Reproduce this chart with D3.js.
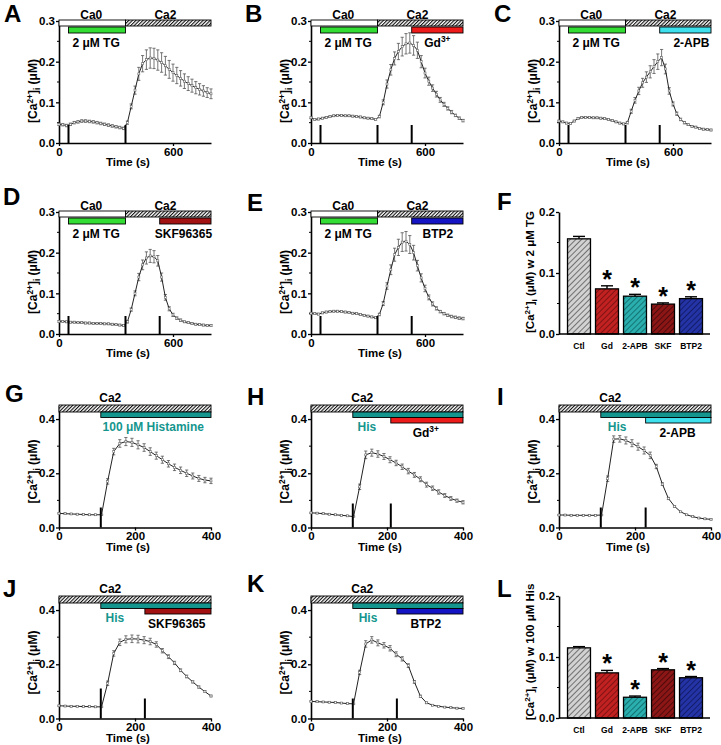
<!DOCTYPE html>
<html>
<head>
<meta charset="utf-8">
<script src="https://cdn.jsdelivr.net/npm/d3@7/dist/d3.min.js"></script>
<style>
  body { margin: 0; background: #fff; }
  svg { font-family: "Liberation Sans", Arial, sans-serif; font-weight: bold; }
</style>
</head>
<body>
<div id="fig"></div>
<script>
// ---- data: TG protocol traces (A-E), sampled every 20 s ----
const timesTG = [0, 20, 40, 60, 80, 100, 120, 140, 160, 180, 200, 220, 240, 260, 280, 300, 320, 340,
  360, 380, 400, 420, 440, 460, 480, 500, 520, 540, 560, 580, 600, 620, 640, 660, 680, 700, 720, 740, 760, 780, 800];

const valA = [0.046, 0.045, 0.043, 0.046, 0.050, 0.052, 0.054, 0.054, 0.053, 0.052, 0.050, 0.048, 0.046, 0.044, 0.042, 0.040, 0.038, 0.036,
  0.050, 0.090, 0.130, 0.170, 0.195, 0.205, 0.209, 0.208, 0.204, 0.198, 0.190, 0.181, 0.173, 0.166, 0.159, 0.152, 0.146, 0.141, 0.136, 0.132, 0.128, 0.124, 0.121];
const errA = [0.003, 0.003, 0.003, 0.003, 0.003, 0.003, 0.003, 0.003, 0.003, 0.003, 0.003, 0.003, 0.003, 0.003, 0.003, 0.003, 0.003, 0.003,
  0.004, 0.006, 0.010, 0.016, 0.020, 0.024, 0.025, 0.025, 0.025, 0.024, 0.023, 0.022, 0.021, 0.020, 0.019, 0.018, 0.017, 0.016, 0.015, 0.014, 0.013, 0.012, 0.012];

const valB = [0.062, 0.058, 0.059, 0.061, 0.063, 0.065, 0.067, 0.068, 0.068, 0.067, 0.067, 0.066, 0.065, 0.064, 0.062, 0.061, 0.060, 0.058,
  0.065, 0.100, 0.145, 0.180, 0.208, 0.225, 0.237, 0.244, 0.246, 0.240, 0.228, 0.200, 0.172, 0.152, 0.135, 0.120, 0.106, 0.095, 0.085, 0.076, 0.068, 0.061, 0.055];
const errB = [0.002, 0.002, 0.002, 0.002, 0.002, 0.002, 0.002, 0.002, 0.002, 0.002, 0.002, 0.002, 0.002, 0.002, 0.002, 0.002, 0.002, 0.002,
  0.003, 0.006, 0.010, 0.013, 0.016, 0.020, 0.023, 0.025, 0.025, 0.024, 0.020, 0.015, 0.012, 0.010, 0.008, 0.007, 0.006, 0.005, 0.004, 0.004, 0.003, 0.003, 0.003];

const valC = [0.054, 0.052, 0.049, 0.048, 0.054, 0.060, 0.063, 0.063, 0.063, 0.062, 0.062, 0.061, 0.060, 0.058, 0.055, 0.052, 0.049, 0.047,
  0.050, 0.078, 0.105, 0.128, 0.148, 0.162, 0.175, 0.188, 0.200, 0.210, 0.182, 0.128, 0.096, 0.072, 0.058, 0.050, 0.045, 0.041, 0.039, 0.036, 0.034, 0.033, 0.032];
const errC = [0.002, 0.002, 0.002, 0.002, 0.002, 0.002, 0.002, 0.002, 0.002, 0.002, 0.002, 0.002, 0.002, 0.002, 0.002, 0.002, 0.002, 0.002,
  0.003, 0.005, 0.007, 0.009, 0.011, 0.013, 0.015, 0.017, 0.019, 0.020, 0.012, 0.008, 0.005, 0.004, 0.003, 0.003, 0.002, 0.002, 0.002, 0.002, 0.002, 0.002, 0.002];

const valD = [0.031, 0.031, 0.030, 0.029, 0.029, 0.028, 0.028, 0.027, 0.027, 0.026, 0.026, 0.026, 0.025, 0.025, 0.024, 0.023, 0.022, 0.021,
  0.030, 0.060, 0.100, 0.140, 0.170, 0.187, 0.192, 0.190, 0.180, 0.140, 0.090, 0.062, 0.047, 0.039, 0.034, 0.030, 0.028, 0.026, 0.024, 0.023, 0.022, 0.021, 0.021];
const errD = [0.002, 0.002, 0.002, 0.002, 0.002, 0.002, 0.002, 0.002, 0.002, 0.002, 0.002, 0.002, 0.002, 0.002, 0.002, 0.002, 0.002, 0.002,
  0.003, 0.004, 0.006, 0.009, 0.012, 0.015, 0.016, 0.015, 0.013, 0.010, 0.007, 0.005, 0.004, 0.003, 0.003, 0.002, 0.002, 0.002, 0.002, 0.002, 0.002, 0.002, 0.002];

const valE = [0.051, 0.050, 0.049, 0.052, 0.054, 0.055, 0.056, 0.056, 0.055, 0.054, 0.053, 0.051, 0.050, 0.048, 0.046, 0.044, 0.042, 0.040,
  0.048, 0.075, 0.118, 0.158, 0.195, 0.213, 0.226, 0.228, 0.220, 0.200, 0.168, 0.138, 0.112, 0.090, 0.074, 0.063, 0.055, 0.050, 0.046, 0.043, 0.041, 0.039, 0.038];
const errE = [0.002, 0.002, 0.002, 0.002, 0.002, 0.002, 0.002, 0.002, 0.002, 0.002, 0.002, 0.002, 0.002, 0.002, 0.002, 0.002, 0.002, 0.002,
  0.003, 0.005, 0.008, 0.012, 0.016, 0.020, 0.023, 0.024, 0.022, 0.018, 0.013, 0.010, 0.008, 0.006, 0.005, 0.004, 0.003, 0.003, 0.003, 0.003, 0.003, 0.003, 0.003];

// ---- data: histamine traces (G-K), sampled every 16 s ----
const timesHis = [0, 16, 32, 48, 64, 80, 96, 112, 128, 144, 160, 176, 192, 208, 224, 240, 256, 272, 288, 304, 320, 336, 352, 368, 384, 400];

const valG = [0.052, 0.051, 0.050, 0.049, 0.048, 0.047, 0.047, 0.047, 0.170, 0.280, 0.310, 0.317, 0.314, 0.305, 0.295, 0.280, 0.265, 0.250, 0.235, 0.222, 0.211, 0.200, 0.190, 0.181, 0.175, 0.172];
const errG = [0.002, 0.002, 0.002, 0.002, 0.002, 0.002, 0.002, 0.002, 0.010, 0.012, 0.014, 0.015, 0.015, 0.015, 0.014, 0.014, 0.013, 0.013, 0.012, 0.012, 0.012, 0.012, 0.011, 0.011, 0.010, 0.010];

const valH = [0.054, 0.053, 0.051, 0.049, 0.047, 0.045, 0.043, 0.040, 0.150, 0.268, 0.276, 0.271, 0.262, 0.250, 0.238, 0.224, 0.208, 0.194, 0.178, 0.158, 0.145, 0.131, 0.118, 0.107, 0.099, 0.093];
const errH = [0.002, 0.002, 0.002, 0.002, 0.002, 0.002, 0.002, 0.002, 0.010, 0.014, 0.013, 0.012, 0.011, 0.011, 0.010, 0.010, 0.010, 0.009, 0.009, 0.009, 0.008, 0.008, 0.007, 0.007, 0.006, 0.006];

const valI = [0.046, 0.046, 0.045, 0.045, 0.045, 0.045, 0.045, 0.046, 0.180, 0.326, 0.327, 0.321, 0.311, 0.298, 0.284, 0.266, 0.225, 0.160, 0.107, 0.078, 0.058, 0.047, 0.040, 0.035, 0.032, 0.030];
const errI = [0.002, 0.002, 0.002, 0.002, 0.002, 0.002, 0.002, 0.002, 0.010, 0.012, 0.012, 0.013, 0.013, 0.013, 0.013, 0.012, 0.008, 0.005, 0.004, 0.003, 0.002, 0.002, 0.002, 0.002, 0.002, 0.002];

const valJ = [0.047, 0.046, 0.045, 0.045, 0.044, 0.044, 0.043, 0.043, 0.130, 0.240, 0.281, 0.292, 0.294, 0.293, 0.289, 0.284, 0.273, 0.250, 0.228, 0.205, 0.178, 0.155, 0.135, 0.116, 0.099, 0.083];
const errJ = [0.002, 0.002, 0.002, 0.002, 0.002, 0.002, 0.002, 0.002, 0.008, 0.010, 0.012, 0.013, 0.014, 0.014, 0.013, 0.012, 0.010, 0.008, 0.007, 0.006, 0.005, 0.005, 0.004, 0.004, 0.003, 0.003];

const valK = [0.063, 0.062, 0.061, 0.060, 0.059, 0.057, 0.055, 0.054, 0.170, 0.275, 0.290, 0.279, 0.270, 0.259, 0.237, 0.220, 0.195, 0.135, 0.082, 0.058, 0.049, 0.045, 0.042, 0.040, 0.038, 0.037];
const errK = [0.002, 0.002, 0.002, 0.002, 0.002, 0.002, 0.002, 0.002, 0.008, 0.012, 0.012, 0.011, 0.010, 0.010, 0.009, 0.008, 0.007, 0.005, 0.004, 0.003, 0.002, 0.002, 0.002, 0.002, 0.002, 0.002];

// ---- data: summary bars (F, L) ----
const barCats = ['Ctl', 'Gd', '2-APB', 'SKF', 'BTP2'];
const peakTG = [0.156, 0.074, 0.062, 0.049, 0.058];
const errPeakTG = [0.004, 0.005, 0.003, 0.002, 0.003];
const peakHis = [0.115, 0.074, 0.034, 0.079, 0.066];
const errPeakHis = [0.002, 0.004, 0.002, 0.002, 0.002];
const signif = [false, true, true, true, true];

// ---- protocol timing (s) ----
const tgOn = 50, ca2On = 350, drugOnTG = 530;
const hisOn = 110;

// ---- colours ----
const TG_COLOR = '#33dd33';
const HIS_COLOR = '#14968e';
const DRUG = {
  Gd: '#ee1b1b', APB: '#3fe0ee', SKF: '#a31212', BTP2: '#1414c4'
};
const BAR_FILL = [
  ['#d2d2d2', '#5e5e5e'], ['#c22121', '#741010'], ['#2aaeae', '#116a6a'], ['#8c1616', '#440808'], ['#2434a6', '#0f1860']
];

const W = 152; // axis length, px
const H = 122; // axis height, px

const svg = d3.select('#fig').append('svg').attr('width', 721).attr('height', 745);
svg.append('rect').attr('width', 721).attr('height', 745).attr('fill', '#fff');
const defs = svg.append('defs');

function hatch(id, bg, fg, size, sw) {
  const p = defs.append('pattern').attr('id', id).attr('patternUnits', 'userSpaceOnUse')
    .attr('width', size).attr('height', size).attr('patternTransform', 'rotate(45)');
  p.append('rect').attr('width', size).attr('height', size).attr('fill', bg);
  p.append('line').attr('x1', 0).attr('y1', 0).attr('x2', 0).attr('y2', size)
    .attr('stroke', fg).attr('stroke-width', sw);
}
hatch('hatchCa', '#fff', '#111', 2.5, 2.2);
BAR_FILL.forEach((c, i) => hatch(`hatchBar${i}`, c[0], c[1], 4, 1.7));

function styleAxis(g) {
  g.attr('font-family', null).attr('font-size', null);
  g.select('.domain').attr('stroke-width', 1.6);
  g.selectAll('.tick line').attr('stroke-width', 1.3);
  g.selectAll('.tick text').attr('font-size', 11.5).attr('font-weight', 'bold').attr('fill', '#000');
}

// [Ca2+]i (uM) label with sup/sub
function caLabel(sel, suffix) {
  sel.append('tspan').text('[Ca');
  sel.append('tspan').attr('dy', -4).attr('font-size', '70%').text('2+');
  sel.append('tspan').attr('dy', 4).text(']');
  sel.append('tspan').attr('dy', 3).attr('font-size', '70%').text('i');
  sel.append('tspan').attr('dy', -3).text(` (\u03bcM)${suffix}`);
}

function supText(sel, base, sup) {
  sel.append('tspan').text(base);
  if (sup) sel.append('tspan').attr('dy', -5).attr('font-size', '70%').text(sup);
}

function letter(txt, x, y) {
  svg.append('text').attr('x', x).attr('y', y).attr('font-size', 24).text(txt);
}

function drawTrace(p) {
  const his = p.kind === 'his';
  const times = his ? timesHis : timesTG;
  const tMax = his ? 400 : 800;
  const x = d3.scaleLinear().domain([0, tMax]).range([p.left, p.left + W]);
  const y = d3.scaleLinear().domain([0, his ? 0.45 : 0.3]).range([p.top + H, p.top]);
  const y0 = y(0);
  const g = svg.append('g');

  // axes
  const yAxis = d3.axisLeft(y).tickValues(his ? [0, 0.2, 0.4] : [0, 0.1, 0.2, 0.3])
    .tickFormat(d3.format('.1f')).tickSize(3).tickSizeOuter(0).tickPadding(1);
  g.append('g').attr('transform', `translate(${p.left},0)`).call(yAxis).call(styleAxis);
  g.append('g').selectAll('line').data(his ? [0.1, 0.3] : [0.05, 0.15, 0.25]).join('line')
    .attr('x1', p.left - 2).attr('x2', p.left)
    .attr('y1', d => y(d)).attr('y2', d => y(d))
    .attr('stroke', '#000').attr('stroke-width', 1);
  const xAxis = d3.axisBottom(x).tickValues(his ? [0, 200, 400] : [0, 600])
    .tickSize(3).tickSizeOuter(0).tickPadding(his ? 1 : 2);
  g.append('g').attr('transform', `translate(0,${y0})`).call(xAxis).call(styleAxis);

  g.append('text').attr('x', p.left + W / 2 - 7).attr('y', y0 + 23)
    .attr('text-anchor', 'middle').attr('font-size', 11.5).text('Time (s)');
  g.append('text')
    .attr('transform', `translate(${p.left - 22},${p.top + (his ? 66 : 70)}) rotate(-90)`)
    .attr('text-anchor', 'middle').attr('font-size', 12)
    .call(caLabel, '');

  // trace with error bars
  const pts = times.map((t, i) => ({ t, v: p.vals[i], e: p.errs[i] }));
  const eb = g.append('g').attr('stroke', '#555').attr('stroke-width', 0.8);
  eb.selectAll('line.v').data(pts).join('line')
    .attr('x1', d => x(d.t)).attr('x2', d => x(d.t))
    .attr('y1', d => y(d.v - d.e)).attr('y2', d => y(d.v + d.e));
  eb.selectAll('line.hi').data(pts).join('line')
    .attr('x1', d => x(d.t) - 1.6).attr('x2', d => x(d.t) + 1.6)
    .attr('y1', d => y(d.v + d.e)).attr('y2', d => y(d.v + d.e));
  eb.selectAll('line.lo').data(pts).join('line')
    .attr('x1', d => x(d.t) - 1.6).attr('x2', d => x(d.t) + 1.6)
    .attr('y1', d => y(d.v - d.e)).attr('y2', d => y(d.v - d.e));
  g.append('path').datum(pts)
    .attr('d', d3.line().x(d => x(d.t)).y(d => y(d.v)))
    .attr('fill', 'none').attr('stroke', '#222').attr('stroke-width', 1);
  g.append('g').selectAll('rect').data(pts).join('rect')
    .attr('x', d => x(d.t) - 1).attr('y', d => y(d.v) - 1)
    .attr('width', 2).attr('height', 2)
    .attr('fill', '#fff').attr('stroke', '#666').attr('stroke-width', 0.6);

  // application markers
  g.append('g').selectAll('line').data(p.marks).join('line')
    .attr('x1', (d) => x(d)).attr('x2', (d) => x(d))
    .attr('y1', y0).attr('y2', (d, i) => y0 - p.markLen[i])
    .attr('stroke', '#000').attr('stroke-width', 2);

  // protocol bars
  const bar = (t0, t1, yy, hh, fill) => g.append('rect')
    .attr('x', x(t0)).attr('y', yy).attr('width', x(t1) - x(t0)).attr('height', hh)
    .attr('fill', fill).attr('stroke', '#000').attr('stroke-width', 0.9);
  const label = (t, yy, fill) => g.append('text').attr('x', x(t)).attr('y', yy)
    .attr('text-anchor', 'middle').attr('font-size', 12).attr('fill', fill || '#000');

  if (!his) {
    bar(0, ca2On, p.top - 1, 6, '#fff');
    bar(ca2On, tMax, p.top - 1, 6, 'url(#hatchCa)');
    bar(tgOn, ca2On, p.top + 6, 6, TG_COLOR);
    if (p.drug) bar(drugOnTG, tMax, p.top + 6, 6, p.drugColor);
    label(170, p.top - 2).text('Ca0');
    label(560, p.top - 2).text('Ca2');
    label(195, p.top + 26).text('2 \u03bcM TG');
    if (p.drug) label(p.labelT, p.top + 26).call(supText, p.drug, p.sup);
  } else {
    bar(0, tMax, p.top - 0.5, 7, 'url(#hatchCa)');
    bar(hisOn, tMax, p.top + 6.5, 5.5, HIS_COLOR);
    if (p.drug) bar(p.drugOn, tMax, p.top + 12, 5.5, p.drugColor);
    label(135, p.top - 3.5).text('Ca2');
    label(p.hisT, p.top + 25, HIS_COLOR).text(p.hisText);
    if (p.drug) label(p.labelT, p.top + 31).call(supText, p.drug, p.sup);
  }
}

function drawBars(p) {
  const x = d3.scaleBand().domain(barCats).range([565, 705]).paddingInner(0.18).paddingOuter(0.09);
  const y = d3.scaleLinear().domain([0, 0.2]).range([p.bottom, p.bottom - H]);
  const g = svg.append('g');
  const rows = barCats.map((c, i) => ({ c, i, v: p.vals[i], e: p.errs[i], s: signif[i] }));

  g.append('g').selectAll('rect').data(rows).join('rect')
    .attr('x', d => x(d.c)).attr('y', d => y(d.v))
    .attr('width', x.bandwidth()).attr('height', d => y(0) - y(d.v))
    .attr('fill', d => `url(#hatchBar${d.i})`).attr('stroke', '#000').attr('stroke-width', 1.3);
  const eb = g.append('g').attr('stroke', '#000').attr('stroke-width', 1.4);
  eb.selectAll('line.v').data(rows).join('line')
    .attr('x1', d => x(d.c) + x.bandwidth() / 2).attr('x2', d => x(d.c) + x.bandwidth() / 2)
    .attr('y1', d => y(d.v)).attr('y2', d => y(d.v + d.e));
  eb.selectAll('line.c').data(rows).join('line')
    .attr('x1', d => x(d.c) + x.bandwidth() / 2 - 6).attr('x2', d => x(d.c) + x.bandwidth() / 2 + 6)
    .attr('y1', d => y(d.v + d.e)).attr('y2', d => y(d.v + d.e));
  g.append('g').selectAll('text').data(rows.filter(d => d.s)).join('text')
    .attr('x', d => x(d.c) + x.bandwidth() / 2).attr('y', d => y(d.v + d.e) + 2)
    .attr('text-anchor', 'middle').attr('font-size', 25).text('*');
  g.append('g').selectAll('text').data(rows).join('text')
    .attr('x', d => x(d.c) + x.bandwidth() / 2).attr('y', p.bottom + 15)
    .attr('text-anchor', 'middle').attr('font-size', 8.5).text(d => d.c);

  const yAxis = d3.axisLeft(y).tickValues([0, 0.1, 0.2]).tickFormat(d3.format('.1f'))
    .tickSize(3).tickSizeOuter(0).tickPadding(1);
  g.append('g').attr('transform', `translate(${p.left},0)`).call(yAxis).call(styleAxis);
  g.append('g').selectAll('line').data([0.05, 0.15]).join('line')
    .attr('x1', p.left - 2).attr('x2', p.left).attr('y1', d => y(d)).attr('y2', d => y(d))
    .attr('stroke', '#000').attr('stroke-width', 1);
  g.append('line').attr('x1', p.left).attr('x2', 710).attr('y1', y(0)).attr('y2', y(0))
    .attr('stroke', '#000').attr('stroke-width', 1.6);
  g.append('text')
    .attr('transform', `translate(${p.left - 25},${p.bottom - p.labelUp}) rotate(-90)`)
    .attr('text-anchor', 'middle').attr('font-size', 11.5)
    .call(caLabel, p.suffix);
}

// ---- panels ----
const tgPanels = [
  { left: 59, top: 21, vals: valA, errs: errA, marks: [tgOn, ca2On], markLen: [18, 18] },
  { left: 311, top: 21, vals: valB, errs: errB, drug: 'Gd', sup: '3+', drugColor: DRUG.Gd, labelT: 665,
    marks: [tgOn, ca2On, drugOnTG], markLen: [18, 18, 18] },
  { left: 559, top: 21, vals: valC, errs: errC, drug: '2-APB', drugColor: DRUG.APB, labelT: 697,
    marks: [tgOn, ca2On, drugOnTG], markLen: [18, 18, 18] },
  { left: 59, top: 212, vals: valD, errs: errD, drug: 'SKF96365', drugColor: DRUG.SKF, labelT: 655,
    marks: [tgOn, ca2On, drugOnTG], markLen: [18, 18, 18] },
  { left: 311, top: 212, vals: valE, errs: errE, drug: 'BTP2', drugColor: DRUG.BTP2, labelT: 668,
    marks: [tgOn, ca2On, drugOnTG], markLen: [18, 18, 18] }
];
tgPanels.forEach(p => drawTrace({ ...p, kind: 'tg' }));

const hisPanels = [
  { left: 59, top: 405.5, vals: valG, errs: errG, hisT: 248, hisText: '100 \u03bcM Histamine',
    marks: [hisOn], markLen: [20] },
  { left: 311, top: 405.5, vals: valH, errs: errH, hisT: 147, hisText: 'His', drug: 'Gd', sup: '3+',
    drugColor: DRUG.Gd, drugOn: 210, labelT: 302, marks: [hisOn, 210], markLen: [24, 24] },
  { left: 559, top: 405.5, vals: valI, errs: errI, hisT: 153, hisText: 'His', drug: '2-APB',
    drugColor: DRUG.APB, drugOn: 228, labelT: 312, marks: [hisOn, 228], markLen: [20, 20] },
  { left: 59, top: 596.5, vals: valJ, errs: errJ, hisT: 147, hisText: 'His', drug: 'SKF96365',
    drugColor: DRUG.SKF, drugOn: 226, labelT: 310, marks: [hisOn, 226], markLen: [30, 20] },
  { left: 311, top: 596.5, vals: valK, errs: errK, hisT: 150, hisText: 'His', drug: 'BTP2',
    drugColor: DRUG.BTP2, drugOn: 226, labelT: 302, marks: [hisOn, 226], markLen: [20, 20] }
];
hisPanels.forEach(p => drawTrace({ ...p, kind: 'his' }));

drawBars({ left: 559, bottom: 334, vals: peakTG, errs: errPeakTG, suffix: ' w 2 \u03bcM TG', labelUp: 62 });
drawBars({ left: 559, bottom: 718, vals: peakHis, errs: errPeakHis, suffix: ' w 100 \u03bcM His', labelUp: 66 });

// panel letters
letter('A', 4, 22); letter('B', 245, 22); letter('C', 494, 22);
letter('D', 3, 205); letter('E', 247, 211); letter('F', 497, 210);
letter('G', 5, 402); letter('H', 247, 405); letter('I', 497, 405);
letter('J', 3, 597); letter('K', 247, 592); letter('L', 497, 597);
</script>
</body>
</html>
